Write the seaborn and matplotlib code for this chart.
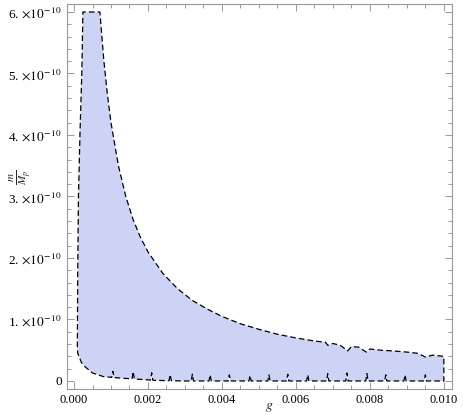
import matplotlib
matplotlib.use("Agg")
import matplotlib.pyplot as plt
import seaborn as sns
import numpy as np
from matplotlib.ticker import MultipleLocator, FormatStrFormatter

sns.set_style("ticks")
plt.rcParams['font.family'] = ['Liberation Serif', 'DejaVu Serif']
plt.rcParams['mathtext.fontset'] = 'stix'

# --- data (m/M_p in units of 1e-10) ---
left_g = [0.00009, 0.00010, 0.00012, 0.00016, 0.00021, 0.00024]
left_m = [0.55, 1.8, 3.0, 4.0, 5.0, 6.0]

upper_g = [0.00024, 0.0007, 0.0008, 0.0009, 0.0010, 0.0012, 0.0014, 0.0016,
           0.0018, 0.0020, 0.0024, 0.0028, 0.0032, 0.0036, 0.0040, 0.0045,
           0.0050, 0.0055, 0.0060, 0.0065, 0.0068, 0.00686, 0.0070, 0.0072,
           0.0074, 0.0075, 0.0077, 0.0079, 0.0080, 0.0083, 0.0086, 0.0090,
           0.0093, 0.0095, 0.0097, 0.0100]
upper_m = [6.0, 6.0, 5.25, 4.67, 4.2, 3.5, 3.0, 2.62,
           2.33, 2.1, 1.75, 1.5, 1.31, 1.17, 1.05, 0.93,
           0.84, 0.76, 0.70, 0.65, 0.63, 0.58, 0.61, 0.58,
           0.49, 0.56, 0.55, 0.47, 0.52, 0.50, 0.49, 0.47,
           0.45, 0.39, 0.42, 0.40]

lower_g = [0.00009, 0.00010, 0.0002, 0.0003, 0.0005, 0.0008, 0.0012, 0.0017,
           0.0022, 0.0030, 0.0100]
lower_m = [0.55, 0.45, 0.30, 0.23, 0.13, 0.07, 0.05, 0.03, 0.01, 0.0, 0.0]

spike_g = [0.00105, 0.0016, 0.0021, 0.0026, 0.0032, 0.00368, 0.0042, 0.00476,
           0.00527, 0.00578, 0.00632, 0.00686, 0.00738, 0.00792, 0.00843,
           0.00895, 0.0095]
spike_h = [0.10, 0.12, 0.12, 0.10, 0.11, 0.10, 0.10, 0.09,
           0.10, 0.11, 0.10, 0.12, 0.13, 0.12, 0.10, 0.10, 0.10]

x_ticks = [0.000, 0.002, 0.004, 0.006, 0.008, 0.010]
y_ticks = [0, 1e-10, 2e-10, 3e-10, 4e-10, 5e-10, 6e-10]
y_tick_labels = ["0"] + [r"%d. $\times 10^{-\,10}$" % k for k in range(1, 7)]

# lower boundary with the little spikes
sw = 0.00003
pts = list(zip(lower_g, lower_m))
for g, h in zip(spike_g, spike_h):
    base = np.interp(g, lower_g, lower_m)
    pts += [(g - sw, np.interp(g - sw, lower_g, lower_m)), (g, base + h),
            (g + sw, np.interp(g + sw, lower_g, lower_m))]
pts.sort()
low_g = [p[0] for p in pts]
low_m = [p[1] for p in pts]

# outline of the region: left edge up, upper curve right, right edge down, lower back
poly_g = left_g + upper_g[1:] + low_g[::-1]
poly_m = np.array(left_m + upper_m[1:] + low_m[::-1]) * 1e-10

fig = plt.figure(figsize=(4.63, 4.15), dpi=100)
ax = fig.add_axes([0.1447, 0.0627, 0.8315, 0.9277])

ax.fill(poly_g, poly_m, color='#cdd3f5', lw=0)
sns.lineplot(x=poly_g, y=poly_m, sort=False, estimator=None, ax=ax,
             color='black', lw=0.9, linestyle=(0, (4.5, 2.5)))

ax.set_xlim(-0.00019, 0.01022)
ax.set_ylim(-0.13e-10, 6.13e-10)

ax.set_xticks(x_ticks)
ax.xaxis.set_major_formatter(FormatStrFormatter('%.3f'))
ax.xaxis.set_minor_locator(MultipleLocator(0.0005))
ax.set_yticks(y_ticks, y_tick_labels)
ax.yaxis.set_minor_locator(MultipleLocator(0.2e-10))

ax.tick_params(which='both', direction='in', top=True, right=True,
               color='#999999', width=0.7, labelsize=9, labelcolor='black')
ax.tick_params(axis='y', labelsize=9.5)
ax.tick_params(which='major', length=5)
ax.tick_params(which='minor', length=3)
for s in ax.spines.values():
    s.set_color('#999999')
    s.set_linewidth(0.8)

ax.set_xlabel(r"$g$", fontsize=10)
ax.xaxis.set_label_coords(0.525, -0.03)
ax.set_ylabel(r"$\frac{m}{M_p}$", fontsize=11.5)
ax.yaxis.set_label_coords(-0.085, 0.55)

fig.savefig('out.png', dpi=100)
